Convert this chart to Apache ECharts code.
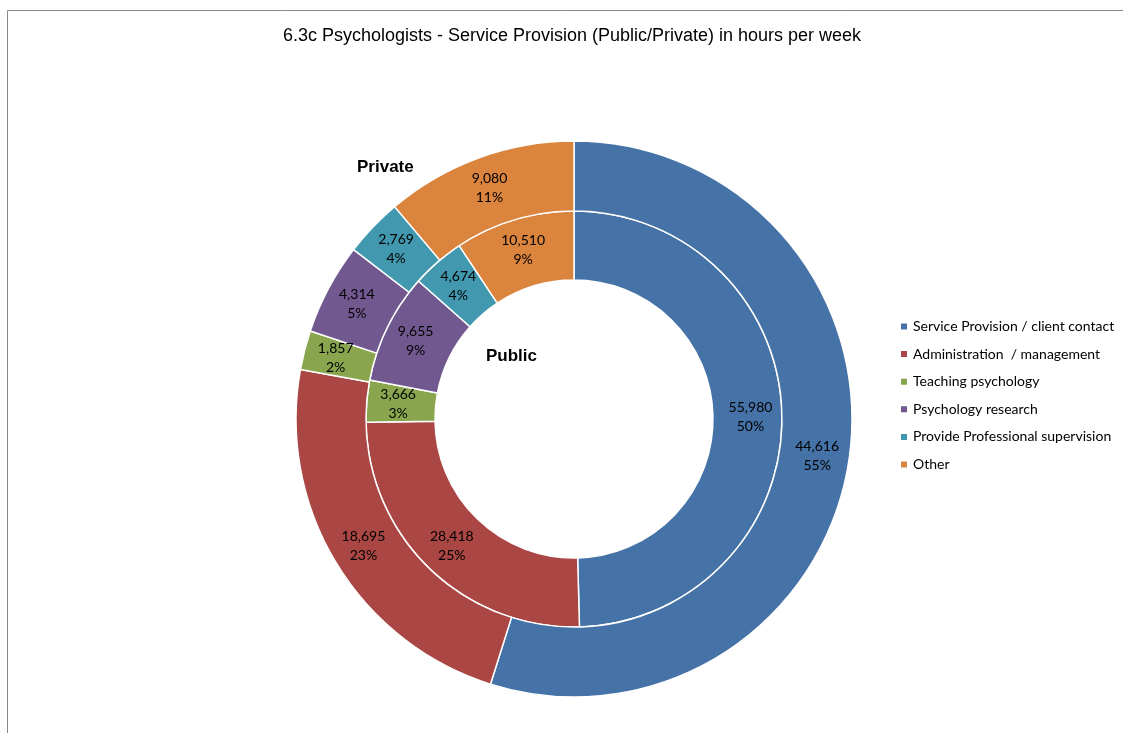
<!DOCTYPE html>
<html>
<head>
<meta charset="utf-8">
<script src="https://cdn.jsdelivr.net/npm/echarts@6/dist/echarts.min.js"></script>
<style>html,body{margin:0;padding:0;background:#fff;}#c{width:1123px;height:733px;}</style>
</head>
<body>
<div id="c"></div>
<script>
var categories = ['Service Provision / client contact','Administration  / management','Teaching psychology','Psychology research','Provide Professional supervision','Other'];
var publicValues = [55980, 28418, 3666, 9655, 4674, 10510];
var privateValues = [44616, 18695, 1857, 4314, 2769, 9080];
var publicPct = ['50%','25%','3%','9%','4%','9%'];
var privatePct = ['55%','23%','2%','5%','4%','11%'];
var colors = ['#4572A7','#AA4643','#89A54E','#71588F','#4198AF','#DB843D'];

function build(vals, pcts){
  return vals.map(function(v,i){
    return {name: categories[i], value: v, pct: pcts[i]};
  });
}
function fmt(p){
  return p.value.toLocaleString('en-US') + '\n' + p.data.pct;
}
var labelStyle = {show:true, position:'inside', formatter: fmt, color:'#000', fontFamily:'Lato', fontSize:14, lineHeight:19};
var chart = echarts.init(document.getElementById('c'));
chart.setOption({
  animation:false,
  color: colors,
  title:{text:'6.3c Psychologists - Service Provision (Public/Private) in hours per week', left:567, top:22, textAlign:'center',
    textStyle:{fontFamily:'Liberation Sans', fontWeight:'normal', fontSize:18, color:'#000'}},
  legend:{orient:'vertical', left:894, top:313, itemWidth:8, itemHeight:8, itemGap:10.6, icon:'rect',
    textStyle:{fontFamily:'Lato', fontSize:14, color:'#000', lineHeight:17},
    data: categories},
  graphic:[
    {type:'rect', shape:{x:7.5,y:10.5,width:1200,height:800}, style:{fill:null, stroke:'#888', lineWidth:1}, silent:true},
    {type:'text', left:357, top:159, style:{text:'Private', font:'bold 17px "Liberation Sans"', fill:'#000'}},
    {type:'text', left:486, top:348, style:{text:'Public', font:'bold 17px "Liberation Sans"', fill:'#000'}}
  ],
  series:[
    {type:'pie', name:'Public', center:[574,419], radius:[139,208], startAngle:90, clockwise:true,
      itemStyle:{borderColor:'#fff', borderWidth:1.5}, label:labelStyle, labelLine:{show:false},
      emphasis:{disabled:true}, data: build(publicValues, publicPct)},
    {type:'pie', name:'Private', center:[574,419], radius:[208,278], startAngle:90, clockwise:true,
      itemStyle:{borderColor:'#fff', borderWidth:1.5}, label:labelStyle, labelLine:{show:false},
      emphasis:{disabled:true}, data: build(privateValues, privatePct)}
  ]
});
</script>
</body>
</html>
